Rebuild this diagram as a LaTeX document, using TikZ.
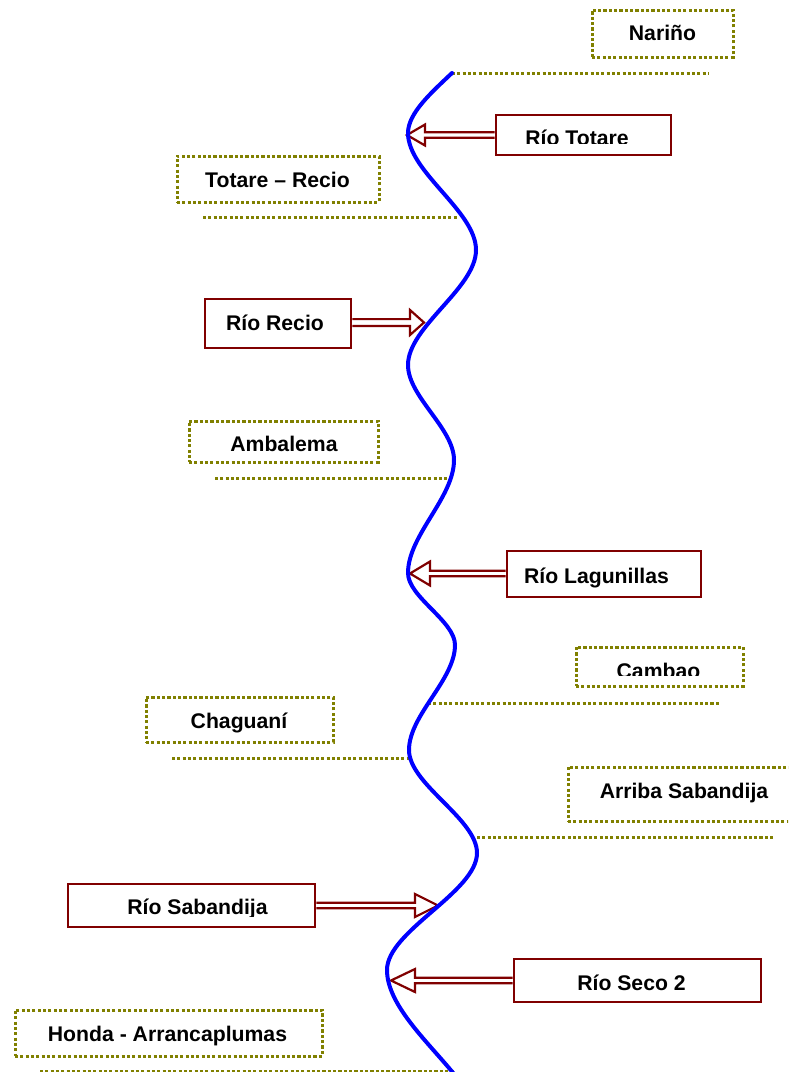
\documentclass[tikz,border=0pt]{standalone}
\usepackage{fontspec}
\setmainfont{Liberation Sans}
\usetikzlibrary{calc}
\definecolor{boxred}{RGB}{128,0,0}
\definecolor{dotolive}{RGB}{128,128,0}
\pgfdeclarelayer{bg}
\pgfsetlayers{bg,main}
% #1 box anchor, #2 tip coordinate, #3 signed head length, #4 head half-height, #5 shaft half-height
\newcommand{\myBlockArrow}[5]{%
  \begin{pgfonlayer}{bg}
  \draw[blockarrow] let \p1=(#1), \p2=(#2) in
    (\x1,{\y2+(#5)*1pt}) -- ({\x2+(#3)*1pt},{\y2+(#5)*1pt}) -- ({\x2+(#3)*1pt},{\y2+(#4)*1pt})
    -- (\x2,\y2) -- ({\x2+(#3)*1pt},{\y2-(#4)*1pt}) -- ({\x2+(#3)*1pt},{\y2-(#5)*1pt}) -- (\x1,{\y2-(#5)*1pt});
  \end{pgfonlayer}}
\tikzset{
  lbl/.style={inner sep=0pt, font=\fontsize{21.2}{25}\selectfont\bfseries, text=black},
  redbox/.style={draw=boxred, line width=2.6pt, fill=white, inner sep=0pt},
  dotbox/.style={draw=dotolive, line width=3pt, dash pattern=on 3.1pt off 2.23pt, inner sep=0pt},
  dotline/.style={draw=dotolive, line width=3pt, dash pattern=on 3.1pt off 2.23pt},
  blockarrow/.style={draw=boxred, line width=2.2pt, fill=white, line join=miter},
  river/.style={draw=blue, line width=4pt, line cap=round}
}
\begin{document}
\begin{tikzpicture}[x=1pt,y=-1pt]
\useasboundingbox (0,0) rectangle (788,1072);
\clip (0,0) rectangle (788,1072);

% river extrema
\coordinate (c0) at (452,73);
\coordinate (m1) at (408,133);
\coordinate (M1) at (476,250);
\coordinate (m2) at (408,365);
\coordinate (M2) at (454,460);
\coordinate (m3) at (408,573);
\coordinate (M3) at (455,645);
\coordinate (m4) at (409,750);
\coordinate (M4) at (477,853);
\coordinate (m5) at (387,970);
\coordinate (c9) at (454,1074);

% boxes
\node[dotbox, minimum width=141pt, minimum height=47pt] (bNarino) at (662.5,33.5) {};
\node[redbox, minimum width=175pt, minimum height=40pt] (bTotare) at (583.5,135) {};
\node[dotbox, minimum width=202pt, minimum height=46pt] (bTR) at (278,179) {};
\node[redbox, minimum width=146pt, minimum height=49pt] (bRecio) at (278,323.5) {};
\node[dotbox, minimum width=189pt, minimum height=41pt] (bAmb) at (283.5,441.5) {};
\node[redbox, minimum width=194pt, minimum height=46pt] (bLag) at (604,574) {};
\node[dotbox, minimum width=167pt, minimum height=39pt] (bCam) at (659.5,666.5) {};
\node[dotbox, minimum width=187pt, minimum height=45pt] (bCha) at (239.5,719.5) {};
\node[dotbox, minimum width=234pt, minimum height=54pt] (bArr) at (685,794) {};
\node[redbox, minimum width=247pt, minimum height=43pt] (bSab) at (191.5,905.5) {};
\node[redbox, minimum width=247pt, minimum height=43pt] (bSeco) at (637.5,980.5) {};
\node[dotbox, minimum width=307pt, minimum height=46pt] (bHonda) at (168.5,1033) {};

% labels
\node[lbl, anchor=base] (tNarino) at (662.5,40) {Nariño};
\begin{scope}
  \clip (496,115) rectangle (671,143.5);
  \node[lbl, anchor=base] (tTotare) at (577,145) {Río Totare};
\end{scope}
\node[lbl, anchor=base] (tTR) at (277.5,187) {Totare – Recio};
\node[lbl, anchor=base] (tRecio) at (275,330) {Río Recio};
\node[lbl, anchor=base] (tAmb) at (284,451) {Ambalema};
\node[lbl, anchor=base] (tLag) at (596.5,583) {Río Lagunillas};
\begin{scope}
  \clip (576,647) rectangle (743,675.5);
  \node[lbl, anchor=base] (tCam) at (658.5,678) {Cambao};
\end{scope}
\node[lbl, anchor=base] (tCha) at (239,728) {Chaguaní};
\node[lbl, anchor=base] (tArr) at (684,798) {Arriba Sabandija};
\begin{scope}
  \clip (68,884) rectangle (315,916);
  \node[lbl, anchor=base] (tSab) at (197.5,914) {Río Sabandija};
\end{scope}
\node[lbl, anchor=base] (tSeco) at (631.5,990) {Río Seco 2};
\node[lbl, anchor=base] (tHonda) at (167.5,1041) {Honda - Arrancaplumas};

% dotted reference lines
\coordinate (eNarino) at (708,73);
\draw[dotline] (c0) -- (eNarino);
\coordinate (sTR) at (203,217); \coordinate (eTR) at (457,217);
\draw[dotline] (sTR) -- (eTR);
\coordinate (sAmb) at (215,478); \coordinate (eAmb) at (448,478);
\draw[dotline] (sAmb) -- (eAmb);
\coordinate (sCam) at (428,703); \coordinate (eCam) at (720,703);
\draw[dotline] (sCam) -- (eCam);
\coordinate (sCha) at (172,758); \coordinate (eCha) at (411,758);
\draw[dotline] (sCha) -- (eCha);
\coordinate (sArr) at (477,837); \coordinate (eArr) at (775,837);
\draw[dotline] (sArr) -- (eArr);
\coordinate (sHonda) at (40,1071); \coordinate (eHonda) at (455,1071);
\draw[dotline] (sHonda) -- (eHonda);

% block arrows to the river
\coordinate (pTotare) at (407,135);
\coordinate (pRecio) at (424,322.5);
\coordinate (pLag) at (410,573.5);
\coordinate (pSab) at (438,905.5);
\coordinate (pSeco) at (391,980.5);
\myBlockArrow{bTotare.west}{pTotare}{18}{10.5}{2.7}
\myBlockArrow{bRecio.east}{pRecio}{-14}{12.5}{3.4}
\myBlockArrow{bLag.west}{pLag}{20}{12}{2.7}
\myBlockArrow{bSab.east}{pSab}{-23}{11.5}{2.7}
\myBlockArrow{bSeco.west}{pSeco}{24}{11.5}{2.7}

% river
\draw[river] (c0) .. controls (432,92) and (408,113) .. (m1)
  .. controls (408,172) and (476,211) .. (M1)
  .. controls (476,288.3) and (408,326.7) .. (m2)
  .. controls (408,396.7) and (454,428.3) .. (M2)
  .. controls (454,497.7) and (408,535.3) .. (m3)
  .. controls (408,597) and (455,621) .. (M3)
  .. controls (455,680) and (409,715) .. (m4)
  .. controls (409,784.3) and (477,818.7) .. (M4)
  .. controls (477,892) and (387,931) .. (m5)
  .. controls (387,1005) and (428,1042) .. (c9);
\end{tikzpicture}
\end{document}
